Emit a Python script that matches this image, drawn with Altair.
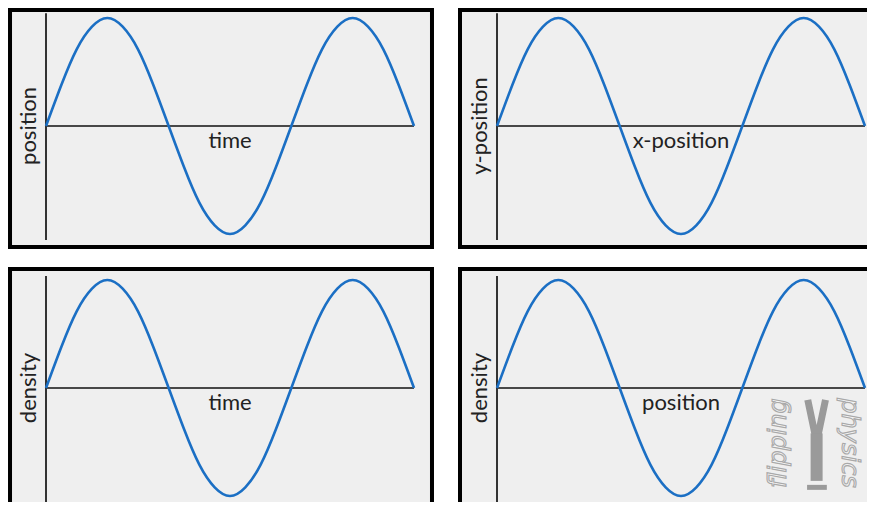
import altair as alt
import pandas as pd

phase = [0, 22.5, 45, 67.5, 90, 112.5, 135, 157.5, 180, 202.5, 225, 247.5, 270,
         292.5, 315, 337.5, 360, 382.5, 405, 427.5, 450, 472.5, 495, 517.5, 540]
wave = [0, 0.38, 0.71, 0.92, 1.0, 0.92, 0.71, 0.38, 0, -0.38, -0.71, -0.92, -1.0,
        -0.92, -0.71, -0.38, 0, 0.38, 0.71, 0.92, 1.0, 0.92, 0.71, 0.38, 0]

panel_row = [0, 0, 1, 1]
panel_col = [0, 1, 0, 1]
x_labels = ["time", "x-position", "time", "position"]
y_labels = ["position", "y-position", "density", "density"]

# ---- layout (in scale units: degrees of phase horizontally, wave amplitude vertically)
W, H = 859, 494
PX_PER_DEG = 368 / 540.0
PX_PER_UNIT = 108.0
COL_OFF = 451 / PX_PER_DEG          # horizontal shift of right column
ROW_OFF = 262 / PX_PER_UNIT         # vertical shift of bottom row
x_dom = [(8 - 46) / PX_PER_DEG, (8 + W - 46) / PX_PER_DEG]
y_dom = [(126 - 8 - H) / PX_PER_UNIT, (126 - 8) / PX_PER_UNIT]

frame_x = [[-52.8, 566.4], [607.5, 1230.0]]
frame_y = [[1.074, -1.120], [-1.324, -3.70]]
vaxis_y = [[1.045, -1.055], [1.037, -1.065]]

BLUE = "#1b6fc4"
FONT = "Lato"

xs = alt.Scale(domain=x_dom, zero=False, nice=False)
ys = alt.Scale(domain=y_dom, zero=False, nice=False)
X = lambda f: alt.X(f, type="quantitative", scale=xs, axis=None)
Y = lambda f: alt.Y(f, type="quantitative", scale=ys, axis=None)

# tables built from the arrays above
wave_rows, frame_rows, hax_rows, vax_rows, lab_rows = [], [], [], [], []
for p in range(4):
    r, c = panel_row[p], panel_col[p]
    dx, dy = c * COL_OFF, -r * ROW_OFF
    for ph, v in zip(phase, wave):
        wave_rows.append({"panel": p, "x": ph + dx, "y": v + dy})
    frame_rows.append({"x": frame_x[c][0], "x2": frame_x[c][1], "y": frame_y[r][0], "y2": frame_y[r][1]})
    hax_rows.append({"x": 0 + dx, "x2": 540 + dx, "y": dy})
    vax_rows.append({"x": dx, "y": vaxis_y[r][0] + dy, "y2": vaxis_y[r][1] + dy})
    lab_rows.append({"x": 270 + dx, "y": -0.2 + dy, "t": x_labels[p],
                     "yx": -14.7 + dx, "yy": dy, "yt": y_labels[p]})

frames = alt.Chart(pd.DataFrame(frame_rows)).mark_rect(
    fill="#efefef", stroke="#000", strokeWidth=4, clip=True).encode(
    x=X("x"), x2="x2", y=Y("y"), y2="y2")
haxis = alt.Chart(pd.DataFrame(hax_rows)).mark_rule(color="#111", strokeWidth=1.6).encode(
    x=X("x"), x2="x2", y=Y("y"))
vaxis = alt.Chart(pd.DataFrame(vax_rows)).mark_rule(color="#333", strokeWidth=2, clip=True).encode(
    x=X("x"), y=Y("y"), y2="y2")
lines = alt.Chart(pd.DataFrame(wave_rows)).mark_line(
    color=BLUE, strokeWidth=2.6, interpolate="natural", clip=True).encode(
    x=X("x"), y=Y("y"), detail="panel:N")
labs = pd.DataFrame(lab_rows)
xlab = alt.Chart(labs).mark_text(font=FONT, fontSize=22, color="#222", align="center",
                                 baseline="alphabetic").encode(x=X("x"), y=Y("y"), text="t")
ylab = alt.Chart(labs).mark_text(font=FONT, fontSize=22, color="#222", align="center",
                                 baseline="alphabetic", angle=270).encode(x=X("yx"), y=Y("yy"), text="yt")

# watermark in the lower-right panel
wdx, wdy = COL_OFF, -ROW_OFF
wm = pd.DataFrame({"x": [414 + wdx, 516.5 + wdx], "y": [-0.51 + wdy, -0.51 + wdy],
                   "t": ["flipping", "physics"]})
wm_style = dict(font="DejaVu Sans", fontSize=24, fontStyle="italic", fill="#f4f4f4",
                stroke="#a8a8a8", strokeWidth=1.1, align="center", baseline="middle")
wm1 = alt.Chart(wm.iloc[[0]]).mark_text(angle=270, **wm_style).encode(x=X("x"), y=Y("y"), text="t")
wm2 = alt.Chart(wm.iloc[[1]]).mark_text(angle=90, **wm_style).encode(x=X("x"), y=Y("y"), text="t")
fig = pd.DataFrame({"x": [469 + wdx], "y": [-0.42 + wdy], "y2": [-0.86 + wdy]})
body = alt.Chart(fig).mark_rule(color="#9a9a9a", strokeWidth=12).encode(x=X("x"), y=Y("y"), y2="y2")
legs = pd.DataFrame({"x": [456 + wdx, 469 + wdx, 482 + wdx], "y": [-0.11 + wdy, -0.5 + wdy, -0.11 + wdy]})
legline = alt.Chart(legs).mark_line(color="#9a9a9a", strokeWidth=7).encode(
    x=X("x"), y=Y("y"), order="x:Q")
arms = pd.DataFrame({"x": [455 + wdx], "x2": [484 + wdx], "y": [-0.92 + wdy]})
armline = alt.Chart(arms).mark_rule(color="#9a9a9a", strokeWidth=5).encode(x=X("x"), x2="x2", y=Y("y"))

chart = alt.layer(frames, haxis, vaxis, lines, xlab, ylab, legline, body, armline, wm1, wm2).properties(
    width=W, height=H, padding=0, background="white",
    autosize=alt.AutoSizeParams(type="none"),
).configure_view(stroke=None)

chart.save("out.html", embed_options={"renderer": "svg", "actions": False})
